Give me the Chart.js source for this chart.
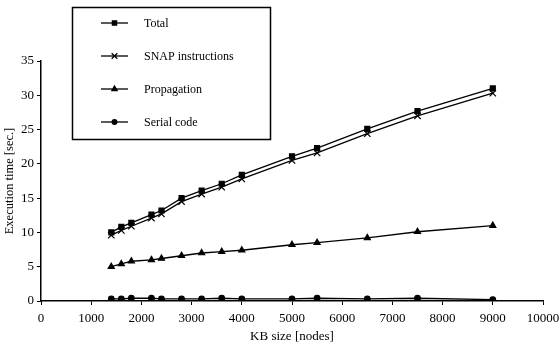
<!DOCTYPE html>
<html>
<head>
<meta charset="utf-8">
<script src="https://cdn.jsdelivr.net/npm/chart.js@4"></script>
<style>
  html, body { margin: 0; padding: 0; background: #fff; }
  #wrap { position: relative; width: 560px; height: 348px; }
</style>
</head>
<body>
<div id="wrap"><canvas id="chart" width="560" height="348"></canvas></div>
<script>
// KB size [nodes]
const kbSize = [1400, 1600, 1800, 2200, 2400, 2800, 3200, 3600, 4000, 5000, 5500, 6500, 7500, 9000];
const totalTime = [10.0, 10.8, 11.4, 12.6, 13.2, 15.0, 16.1, 17.1, 18.4, 21.1, 22.3, 25.1, 27.7, 31.0];
const snapTime = [9.6, 10.3, 10.9, 12.1, 12.7, 14.5, 15.6, 16.6, 17.8, 20.5, 21.6, 24.4, 27.0, 30.3];
const propTime = [5.0, 5.4, 5.8, 6.0, 6.2, 6.6, 7.0, 7.2, 7.4, 8.2, 8.5, 9.2, 10.1, 11.0];
const serialTime = [0.3, 0.3, 0.4, 0.4, 0.3, 0.3, 0.3, 0.4, 0.3, 0.3, 0.4, 0.3, 0.4, 0.2];

const seriesNames = ['Total', 'SNAP instructions', 'Propagation', 'Serial code'];
const seriesStyles = ['rect', 'crossRot', 'triangle', 'circle'];
const seriesSizes = [3.5, 4.5, 3.5, 2.8];
const seriesData = [totalTime, snapTime, propTime, serialTime];

const FONT = 'Liberation Serif';

const pts = arr => arr.map((v, i) => ({ x: kbSize[i], y: v }));

// legend box drawn inside the canvas, top left of the plot
const boxLegend = {
  id: 'boxLegend',
  afterDraw(chart) {
    const ctx = chart.ctx;
    ctx.save();
    ctx.strokeStyle = '#000';
    ctx.lineWidth = 1.5;
    ctx.strokeRect(72.5, 7.5, 198, 132);
    ctx.font = '12px ' + FONT;
    ctx.textBaseline = 'middle';
    ctx.fillStyle = '#000';
    seriesNames.forEach((name, i) => {
      const y = 23 + i * 33;
      ctx.beginPath();
      ctx.lineWidth = 1.3;
      ctx.moveTo(101, y);
      ctx.lineTo(128, y);
      ctx.stroke();
      Chart.helpers.drawPoint(ctx, {
        pointStyle: seriesStyles[i], radius: seriesSizes[i] - 0.5, rotation: 0, borderWidth: 1.2
      }, 114.5, y);
      ctx.fillText(name, 144, y + 1);
    });
    ctx.restore();
  }
};

new Chart(document.getElementById('chart'), {
  type: 'line',
  data: {
    datasets: seriesData.map((d, i) => ({
      label: seriesNames[i],
      data: pts(d),
      borderColor: '#000',
      backgroundColor: '#000',
      borderWidth: 1.3,
      pointStyle: seriesStyles[i],
      pointRadius: seriesSizes[i],
      pointBorderWidth: 1.2,
      tension: 0
    }))
  },
  options: {
    responsive: false,
    animation: false,
    layout: { padding: { top: 61, right: 0, left: 0, bottom: 0 } },
    plugins: { legend: { display: false }, tooltip: { enabled: false } },
    scales: {
      x: {
        type: 'linear', min: 0, max: 10000,
        ticks: { stepSize: 1000, color: '#000', font: { family: FONT, size: 13 }, maxRotation: 0, padding: 6,
          callback: v => String(v) },
        grid: { drawOnChartArea: false, drawTicks: true, tickLength: 4, color: '#000' },
        border: { color: '#000', width: 1.5 },
        title: { display: true, text: 'KB size [nodes]', color: '#000', font: { family: FONT, size: 13 }, padding: { top: 1 } },
        afterFit(scale) { scale.height = 47; scale.paddingRight = 17; }
      },
      y: {
        min: 0, max: 35,
        ticks: { stepSize: 5, color: '#000', font: { family: FONT, size: 13 }, padding: 3 },
        grid: { drawOnChartArea: false, drawTicks: true, tickLength: 4, color: '#000' },
        border: { color: '#000', width: 1.5 },
        title: { display: true, text: 'Execution time [sec.]', color: '#000', font: { family: FONT, size: 12.5 }, padding: 2 },
        afterFit(scale) { scale.width = 41; }
      }
    }
  },
  plugins: [boxLegend]
});
</script>
</body>
</html>
